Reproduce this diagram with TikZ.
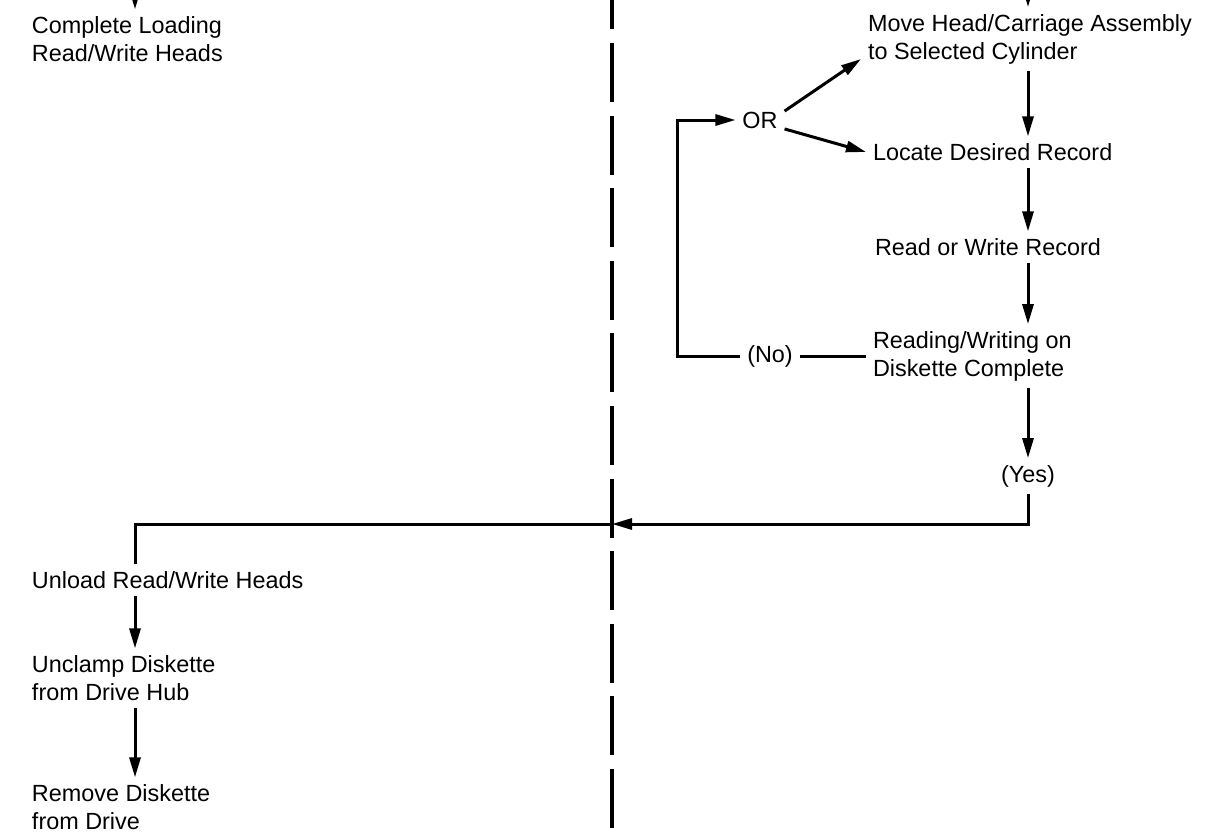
\documentclass[tikz,border=0pt]{standalone}
\usepackage{fontspec}
\setmainfont{Liberation Sans}
\usetikzlibrary{arrows.meta}

\begin{document}
\begin{tikzpicture}[x=0.5pt, y=-0.5pt,
    lbl/.style={anchor=west, align=left, inner sep=0pt, outer sep=3.5pt, font=\fontsize{11.7}{14}\selectfont},
    flow/.style={line width=1.5pt, -{Triangle[length=10pt, width=5.5pt]}},
    plain/.style={line width=1.5pt}]
    \useasboundingbox (0,0) rectangle (1232,835);

    \node (cl)[lbl] at (25, 39) {Complete Loading\\Read/Write Heads};
    \node (mh)[lbl] at (861, 39) {Move Head/Carriage Assembly\\to Selected Cylinder};
    \node (or)[lbl, anchor=center] at (760, 120) {OR};
    \node (ld)[lbl] at (866, 152) {Locate Desired Record};
    \node (rr)[lbl] at (868, 247) {Read or Write Record};
    \node (rw)[lbl] at (866, 356) {Reading/Writing on\\Diskette Complete};
    \node (no)[lbl, anchor=center] at (770, 356) {(No)};
    \node (yes)[lbl, anchor=center] at (1028, 476) {(Yes)};
    \node (ul)[lbl] at (25, 580) {Unload Read/Write Heads};
    \node (uc)[lbl] at (25, 678) {Unclamp Diskette\\from Drive Hub};
    \node (rd)[lbl] at (25, 807) {Remove Diskette\\from Drive};

    \coordinate (lcol) at (135, -30);
    \coordinate (rcol) at (1028, -30);
    \coordinate (cross) at (612, 524);
    \coordinate (loop) at (677, 356);
    \coordinate (divtop) at (612, 0);
    \coordinate (divbot) at (612, 828);

    \draw[line width=2pt, dash pattern=on 29.5pt off 6.8pt, dash phase=14.8pt] (divtop) -- (divbot);

    \draw[flow] (lcol) -- (cl.north -| lcol);
    \draw[flow] (rcol) -- (mh.north -| rcol);
    \draw[flow] (mh.south -| rcol) -- (ld.north -| rcol);
    \draw[flow] (ld.south -| rcol) -- (rr.north -| rcol);
    \draw[flow] (rr.south -| rcol) -- (rw.north -| rcol);
    \draw[flow] (rw.south -| rcol) -- (yes.north);
    \draw[flow] (yes.south) |- (cross);
    \draw[plain] (cross) -| (ul.north -| lcol);
    \draw[flow] (ul.south -| lcol) -- (uc.north -| lcol);
    \draw[flow] (uc.south -| lcol) -- (rd.north -| lcol);

    \draw[flow] (or.20) -- ([yshift=-10pt]mh.west);
    \draw[flow] (or.-20) -- (ld.west);
    \draw[plain] (rw.west) -- (no.east);
    \draw[flow] (no.west) -- (loop) |- (or.west);
\end{tikzpicture}
\end{document}
